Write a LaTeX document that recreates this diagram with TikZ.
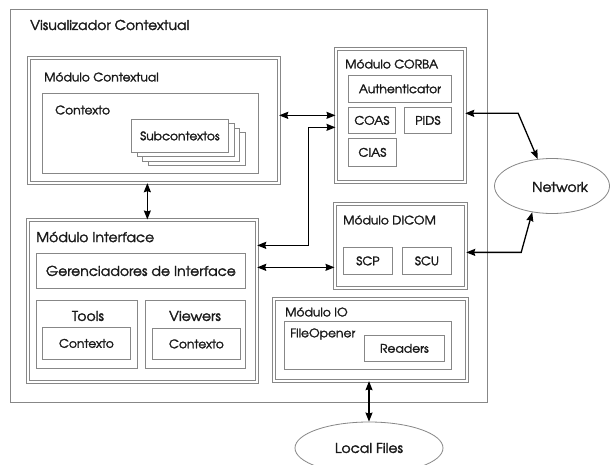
\documentclass[tikz,border=0pt]{standalone}
\usepackage{fontspec}
\setmainfont[FakeStretch=1.04, FakeBold=2]{TeX Gyre Adventor}
\usetikzlibrary{shapes.geometric,arrows.meta,calc}
\definecolor{linegray}{RGB}{135,135,135}
\definecolor{ink}{RGB}{25,25,25}
\tikzset{
  frame/.style={draw=linegray, line width=0.8pt, fill=white, inner sep=0pt, anchor=north west},
  dframe/.style={draw=linegray, line width=0.7pt, double=white, double distance=2pt,
                 inner sep=0pt, anchor=north west},
  lbl/.style={text=ink, font=\fontsize{11.8}{14}\selectfont, inner sep=0pt},
  biglbl/.style={lbl, font=\fontsize{13.5}{15}\selectfont},
  ttl/.style={lbl, anchor=west},
  cloud/.style={ellipse, draw=linegray, line width=0.8pt, fill=white, inner sep=0pt, text=ink,
                font=\fontsize{13.5}{15}\selectfont},
  link/.style={{Stealth[length=9pt,width=7pt,inset=1pt]}-{Stealth[length=9pt,width=7pt,inset=1pt]},
               line width=1.3pt, black},
}
\begin{document}
\begin{tikzpicture}[x=1pt,y=-1pt]
\useasboundingbox[fill=white] (0,0) rectangle (612,465);

% outer frame
\node[frame, minimum width=477pt, minimum height=393pt] (vis) at (10,9) {};
\node[biglbl, anchor=west] (vistitle) at (30,25) {Visualizador Contextual};

% Modulo Contextual
\node[dframe, minimum width=250pt, minimum height=125pt] (mctx) at (28.5,57.5) {};
\node[ttl] (mctxtitle) at (44,77) {Módulo Contextual};
\node[frame, minimum width=216pt, minimum height=80pt] (ctx) at (42,93) {};
\node[ttl] (ctxtitle) at (55,110) {Contexto};
\node[frame, minimum width=97pt, minimum height=33pt] (sub3) at (148,132) {};
\node[frame, minimum width=97pt, minimum height=33pt] (sub2) at (142.3,127.7) {};
\node[frame, minimum width=97pt, minimum height=33pt] (sub1) at (136.7,123.3) {};
\node[frame, minimum width=97pt, minimum height=33pt] (sub) at (131,119) {};
\node[lbl] (subtxt) at (sub.center) {Subcontextos};

% Modulo Interface
\node[dframe, minimum width=229pt, minimum height=162pt] (mint) at (27.5,219.5) {};
\node[biglbl, anchor=west] (minttitle) at (36,237) {Módulo Interface};
\node[frame, minimum width=209pt, minimum height=35pt] (ger) at (36,253) {};
\node[biglbl] (gertxt) at (ger.center) {Gerenciadores de Interface};
\node[frame, minimum width=101pt, minimum height=68pt] (tools) at (36,300) {};
\node[biglbl] (toolstxt) at (88,316) {Tools};
\node[frame, minimum width=88pt, minimum height=32pt] (tctx) at (42,327) {};
\node[lbl] (tctxtxt) at (tctx.center) {Contexto};
\node[frame, minimum width=100pt, minimum height=68pt] (viewers) at (145,300) {};
\node[biglbl] (viewerstxt) at (195,316) {Viewers};
\node[frame, minimum width=88pt, minimum height=31pt] (vctx) at (152,328) {};
\node[lbl] (vctxtxt) at (vctx.center) {Contexto};

% Modulo CORBA
\node[dframe, minimum width=129pt, minimum height=133pt] (corba) at (335.5,48.5) {};
\node[ttl] (corbatitle) at (345,64) {Módulo CORBA};
\node[frame, minimum width=103pt, minimum height=27pt] (auth) at (348,75) {};
\node[lbl] at (auth.center) {Authenticator};
\node[frame, minimum width=47pt, minimum height=26pt] (coas) at (348,107) {};
\node[lbl] at (coas.center) {COAS};
\node[frame, minimum width=47pt, minimum height=26pt] (pids) at (404,107) {};
\node[lbl] at (pids.center) {PIDS};
\node[frame, minimum width=48pt, minimum height=28pt] (cias) at (348,138) {};
\node[lbl] at (cias.center) {CIAS};

% Modulo DICOM
\node[dframe, minimum width=131pt, minimum height=84pt] (dicom) at (334.5,203.5) {};
\node[ttl] (dicomtitle) at (343,220) {Módulo DICOM};
\node[frame, minimum width=49pt, minimum height=27pt] (scp) at (343,247) {};
\node[lbl] at (scp.center) {SCP};
\node[frame, minimum width=49pt, minimum height=27pt] (scu) at (402,247) {};
\node[lbl] at (scu.center) {SCU};

% Modulo IO
\node[dframe, minimum width=193pt, minimum height=82pt] (io) at (273.5,298.5) {};
\node[ttl] (iotitle) at (285,312) {Módulo IO};
\node[frame, minimum width=167pt, minimum height=48pt] (fo) at (284,321) {};
\node[ttl] (fotitle) at (290,334) {FileOpener};
\node[frame, minimum width=80pt, minimum height=26pt] (readers) at (364,335) {};
\node[lbl] at (readers.center) {Readers};

% external resources
\node[cloud, minimum width=115pt, minimum height=55pt] (net) at (552,186) {};
\node[biglbl] (nettxt) at (560,187) {Network};
\node[cloud, minimum width=148pt, minimum height=52pt] (lf) at (369,448) {Local Files};

% connectors
\draw[link] ([xshift=-6.5pt]mctx.south) -- ([xshift=-6.5pt]mctx.south |- mint.north);
\draw[link] (mctx.east |- corba.west) -- (corba.west);
\draw[link] ([yshift=55.5pt]mint.east) -| ([xshift=-27pt,yshift=-12pt]corba.west)
            -- ([yshift=-12pt]corba.west);
\draw[link] ([yshift=-21.5pt]dicom.west -| mint.east) -- ([yshift=-21.5pt]dicom.west);
\draw[link] ([yshift=2pt]corba.east) -- ++(53,0) -- (net.118);
\draw[link] ([yshift=-6.5pt]dicom.east) -- ++(55,0) -- (net.233);
\draw[link] (lf.north |- io.south) -- (lf.north);
\end{tikzpicture}
\end{document}
